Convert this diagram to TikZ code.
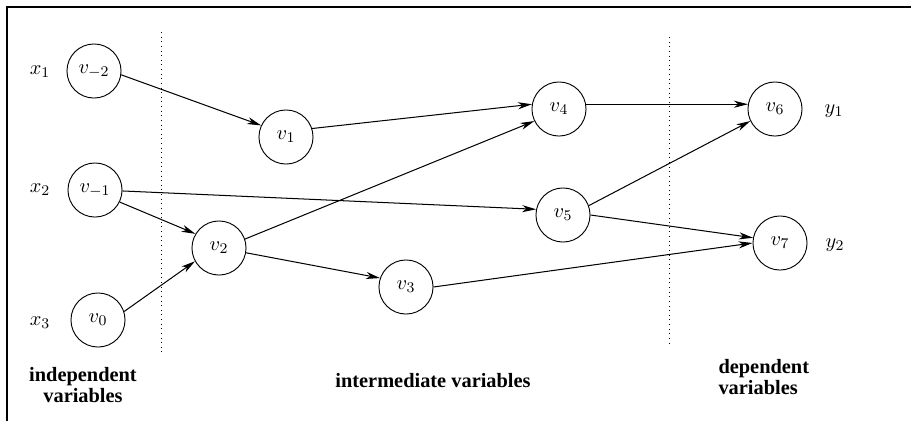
\documentclass[tikz,border=0pt]{standalone}
\usepackage{fontspec}
\newfontfamily\labfont{Liberation Serif}
\usetikzlibrary{arrows.meta}
\begin{document}
\begin{tikzpicture}[x=0.54pt,y=-0.54pt,
  every node/.style={font=\fontsize{11}{11}\selectfont},
  var/.style={circle,draw,line width=0.5pt,minimum size=29.2pt,inner sep=0pt},
  edge/.style={-{Stealth[length=7.5pt,width=3.8pt,inset=2.2pt]},line width=0.55pt},
  sep/.style={dotted,line width=0.5pt},
  grp/.style={font=\fontsize{11}{11}\selectfont\labfont\bfseries,align=center}]
\useasboundingbox (0,0) rectangle (911,421);
\draw[line width=0.6pt] (7,421) -- (7,7) -- (911,7);
\node[var] (vm2) at (94,71) {$v_{-2}$};
\node[var] (vm1) at (95,190) {$v_{-1}$};
\node[var] (v0) at (98,320) {$v_0$};
\node[var] (v1) at (286,137) {$v_1$};
\node[var] (v2) at (219,248) {$v_2$};
\node[var] (v3) at (406,287) {$v_3$};
\node[var] (v4) at (559,109) {$v_4$};
\node[var] (v5) at (563,215) {$v_5$};
\node[var] (v6) at (775,109) {$v_6$};
\node[var] (v7) at (780,243) {$v_7$};
\node (x1) at (40,72) {$x_1$};
\node (x2) at (40,190) {$x_2$};
\node (x3) at (40,323) {$x_3$};
\node (y1) at (834,111) {$y_1$};
\node (y2) at (835,245) {$y_2$};
\coordinate (d1a) at (161,32);
\coordinate (d1b) at (161,354);
\coordinate (d2a) at (669,37);
\coordinate (d2b) at (669,346);
\draw[sep] (d1a) -- (d1b);
\draw[sep] (d2a) -- (d2b);
\draw[edge] (vm2.352) -- (v1.155);
\draw[edge] (vm1.334) -- (v2.149);
\draw[edge] (vm1.358) -- (v5.168);
\draw[edge] (v0.18) -- (v2.209);
\draw[edge] (v1.18) -- (v4.170);
\draw[edge] (v2.19) -- (v4.206);
\draw[edge] (v2.350) -- (v3.161);
\draw[edge] (v3.0) -- (v7.180);
\draw[edge] (v4.10) -- (v6.170);
\draw[edge] (v5.20) -- (v6.206);
\draw[edge] (v5.0) -- (v7.169);
\node[grp] (lind) at (83,385) {independent\\variables};
\node[grp] (lint) at (433,381) {intermediate variables};
\node[grp,align=left,anchor=west] (ldep) at (712,377) {dependent\\variables};
\end{tikzpicture}
\end{document}
